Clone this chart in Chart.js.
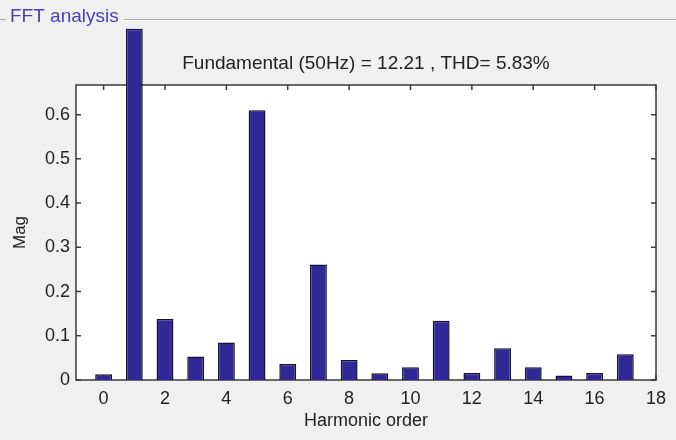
<!DOCTYPE html>
<html>
<head>
<meta charset="utf-8">
<script src="https://cdn.jsdelivr.net/npm/chart.js@4"></script>
<style>
  html, body { margin: 0; padding: 0; background: #f0f0f0; }
  #wrap { width: 676px; height: 440px; }
</style>
</head>
<body>
<div id="wrap"><canvas id="myChart" width="676" height="440"></canvas></div>
<script>
// harmonic spectrum
var harmonics = [0, 1, 2, 3, 4, 5, 6, 7, 8, 9, 10, 11, 12, 13, 14, 15, 16, 17];
var magnitudes = [0.013, 0.794, 0.138, 0.053, 0.085, 0.61, 0.036, 0.261, 0.045,
	0.015, 0.029, 0.134, 0.016, 0.072, 0.029, 0.01, 0.016, 0.058];
var xTicks = [0, 2, 4, 6, 8, 10, 12, 14, 16, 18];
var yTicks = [0, 0.1, 0.2, 0.3, 0.4, 0.5, 0.6];
var panelTitle = 'FFT analysis';
var plotTitle = 'Fundamental (50Hz) = 12.21 , THD= 5.83%';

var textFont = '"Liberation Sans", Arial, sans-serif';

// panel, white axes box, inward ticks and the header text
var matlabLook = {
	id: 'matlabLook',
	beforeDraw: function(chart) {
		var c = chart.ctx, a = chart.chartArea;
		c.save();
		c.fillStyle = '#f0f0f0';
		c.fillRect(0, 0, chart.width, chart.height);
		// panel border with title
		c.strokeStyle = '#a8a8a8';
		c.lineWidth = 1;
		c.beginPath();
		c.moveTo(0, 19.5); c.lineTo(6, 19.5);
		c.moveTo(124, 19.5); c.lineTo(chart.width, 19.5);
		c.stroke();
		c.strokeStyle = '#ffffff';
		c.beginPath();
		c.moveTo(124, 20.5); c.lineTo(chart.width, 20.5);
		c.stroke();
		c.fillStyle = '#4a3fb3';
		c.font = '19px ' + textFont;
		c.textBaseline = 'middle';
		c.fillText(panelTitle, 10, 17);
		// plot area
		c.fillStyle = '#ffffff';
		c.fillRect(a.left, a.top, a.right - a.left, a.bottom - a.top);
		c.fillStyle = '#222222';
		c.font = '19px ' + textFont;
		c.textAlign = 'center';
		c.fillText(plotTitle, (a.left + a.right) / 2, 64);
		c.restore();
	},
	beforeDatasetsDraw: function(chart) {
		var c = chart.ctx, a = chart.chartArea;
		var xs = chart.scales.x, ys = chart.scales.y;
		c.save();
		c.strokeStyle = '#3a3a3a';
		c.lineWidth = 1.5;
		c.strokeRect(a.left, a.top, a.right - a.left, a.bottom - a.top);
		c.beginPath();
		xTicks.forEach(function(v) {
			var px = xs.getPixelForValue(v);
			c.moveTo(px, a.bottom); c.lineTo(px, a.bottom - 5);
			c.moveTo(px, a.top); c.lineTo(px, a.top + 5);
		});
		yTicks.forEach(function(v) {
			var py = ys.getPixelForValue(v);
			c.moveTo(a.left, py); c.lineTo(a.left + 5, py);
			c.moveTo(a.right, py); c.lineTo(a.right - 5, py);
		});
		c.stroke();
		c.restore();
	}
};

var ctx = document.getElementById('myChart').getContext('2d');
var myChart = new Chart(ctx, {
	type: 'bar',
	data: {
		datasets: [{
			label: 'Mag',
			data: harmonics.map(function(h, i) { return { x: h, y: magnitudes[i] }; }),
			backgroundColor: '#2f2896',
			borderColor: '#151030',
			borderWidth: 1.5,
			borderSkipped: 'start',
			categoryPercentage: 1,
			barPercentage: 0.55,
			clip: false
		}]
	},
	options: {
		responsive: false,
		animation: false,
		layout: { padding: { top: 85, right: 20, left: 0, bottom: 0 } },
		plugins: {
			legend: { display: false },
			tooltip: { enabled: false }
		},
		scales: {
			x: {
				type: 'linear',
				offset: false,
				min: -0.9,
				max: 18,
				grid: { display: false, drawTicks: false, tickLength: 0 },
				border: { display: false },
				afterBuildTicks: function(s) { s.ticks = xTicks.map(function(v) { return { value: v }; }); },
				afterFit: function(s) { s.height = 60; },
				ticks: {
					padding: 8,
					maxRotation: 0,
					autoSkip: false,
					color: '#222222',
					font: { family: textFont, size: 18 }
				},
				title: {
					display: true,
					text: 'Harmonic order',
					color: '#222222',
					padding: { top: 0, bottom: 8 },
					font: { family: textFont, size: 18 }
				}
			},
			y: {
				min: 0,
				max: 0.667,
				grid: { display: false, drawTicks: false, tickLength: 0 },
				border: { display: false },
				afterBuildTicks: function(s) { s.ticks = yTicks.map(function(v) { return { value: v }; }); },
				afterFit: function(s) { s.width = 76; },
				ticks: {
					padding: 6,
					autoSkip: false,
					color: '#222222',
					font: { family: textFont, size: 18 },
					callback: function(v) { return String(v); }
				},
				title: {
					display: true,
					text: 'Mag',
					color: '#222222',
					padding: { top: 10, bottom: 0 },
					font: { family: textFont, size: 17 }
				}
			}
		}
	},
	plugins: [matlabLook]
});
</script>
</body>
</html>
